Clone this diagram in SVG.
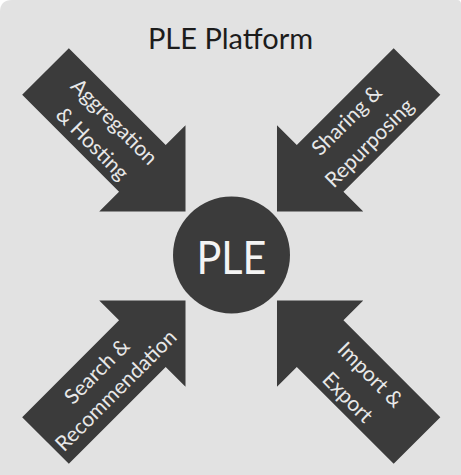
<svg xmlns="http://www.w3.org/2000/svg" width="461" height="475" viewBox="0 0 461 475">
  <defs>
    <style>
      .bg { fill: #e2e2e2; }
      .arrow { fill: #3b3b3b; }
      .hub { fill: #3b3b3b; }
      .title { font-family: Lato, "Open Sans", sans-serif; font-size: 29px; fill: #1c1c1c; text-anchor: middle; }
      .hubtext { font-family: Lato, "Open Sans", sans-serif; font-size: 47px; fill: #f4f4f4; text-anchor: middle; }
      .lbl { font-family: Lato, "Open Sans", sans-serif; font-size: 21px; fill: #e8e8e8; text-anchor: middle; }
    </style>
    <path id="arrowShape" d="M0,-33 L137,-33 L137,-61 L198,0 L137,61 L137,33 L0,33 Z"/>
  </defs>

  <path class="bg" d="M12,0 H457 Q461,0 461,4 V475 H0 V12 Q0,0 12,0 Z"/>

  <g id="title">
    <text class="title" x="230.5" y="49">PLE Platform</text>
  </g>

  <g id="connectors">
    <g id="arrow-aggregation">
      <use href="#arrowShape" class="arrow" transform="translate(45.5,71.5) rotate(45)"/>
      <text class="lbl" transform="translate(105,131) rotate(45)"><tspan x="0" y="-6">Aggregation</tspan><tspan x="0" y="25">&amp; Hosting</tspan></text>
    </g>
    <g id="arrow-sharing">
      <use href="#arrowShape" class="arrow" transform="translate(417,71.5) rotate(135)"/>
      <text class="lbl" transform="translate(357.5,131) rotate(-45)"><tspan x="0" y="-8">Sharing &amp;</tspan><tspan x="0" y="24">Repurposing</tspan></text>
    </g>
    <g id="arrow-search">
      <use href="#arrowShape" class="arrow" transform="translate(45.5,440.5) rotate(-45)"/>
      <text class="lbl" transform="translate(105.5,380) rotate(-45)"><tspan x="0" y="-5">Search &amp;</tspan><tspan x="0" y="22">Recommendation</tspan></text>
    </g>
    <g id="arrow-import">
      <use href="#arrowShape" class="arrow" transform="translate(417,440.5) rotate(-135)"/>
      <text class="lbl" transform="translate(361,384) rotate(45)"><tspan x="0" y="-6">Import &amp;</tspan><tspan x="0" y="26">Export</tspan></text>
    </g>
  </g>

  <g id="node-ple">
    <circle class="hub" cx="231.5" cy="255" r="58.5"/>
    <text class="hubtext" x="231.5" y="274" textLength="70" lengthAdjust="spacingAndGlyphs">PLE</text>
  </g>
</svg>
